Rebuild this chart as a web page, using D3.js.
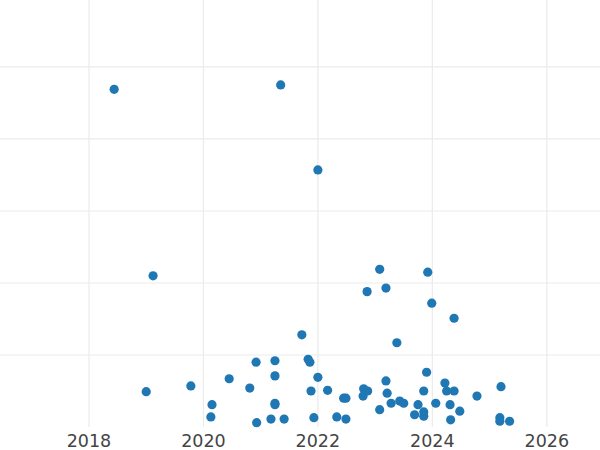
<!DOCTYPE html>
<html>
<head>
<meta charset="utf-8">
<script src="https://cdn.jsdelivr.net/npm/d3@7"></script>
<style>body{margin:0;background:#fff;}</style>
</head>
<body>
<script>
// x = year (decimal), y = value
var years = [2018.44,2021.35,2022.0,2019.12,2019.0,2019.78,2020.15,2020.13,2020.45,2020.81,2020.92,2020.93,2021.25,2021.25,2021.25,2021.25,2021.18,2021.41,2021.72,2021.83,2021.86,2021.88,2022.0,2021.93,2022.17,2022.33,2022.45,2022.49,2022.49,2022.80,2022.79,2022.87,2022.86,2023.08,2023.19,2023.08,2023.19,2023.21,2023.28,2023.38,2023.43,2023.50,2023.69,2023.75,2023.85,2023.85,2023.85,2023.92,2023.90,2023.99,2024.06,2024.22,2024.25,2024.31,2024.32,2024.38,2024.38,2024.48,2024.78,2025.20,2025.18,2025.18,2025.35];
var values = [4.69,4.75,3.57,2.10,0.49,0.57,0.31,0.14,0.67,0.54,0.90,0.06,0.92,0.71,0.33,0.31,0.11,0.11,1.28,0.94,0.90,0.50,0.69,0.13,0.51,0.14,0.40,0.40,0.11,0.53,0.43,0.50,1.88,2.19,1.93,0.24,0.64,0.47,0.33,1.17,0.36,0.33,0.17,0.31,0.21,0.15,0.50,2.15,0.76,1.72,0.33,0.61,0.50,0.31,0.10,1.51,0.50,0.22,0.43,0.56,0.13,0.08,0.08];
var xTicks = [2018,2020,2022,2024,2026];
var yGrid = [1,2,3,4,5];

var width = 600, height = 450, plotBottom = 427;
var svg = d3.select('body').append('svg').attr('width',width).attr('height',height);

var x = d3.scaleLinear().domain([2016.445,2026.93]).range([0,width]);
var y = d3.scaleLinear().domain([0,5.93]).range([plotBottom,0]);

svg.append('g').selectAll('line').data(xTicks).enter().append('line')
    .attr('x1',function(d){return x(d);}).attr('x2',function(d){return x(d);})
    .attr('y1',0).attr('y2',plotBottom)
    .attr('stroke','#ebebeb').attr('stroke-width',1.2);

svg.append('g').selectAll('line').data(yGrid).enter().append('line')
    .attr('x1',0).attr('x2',width)
    .attr('y1',function(d){return y(d);}).attr('y2',function(d){return y(d);})
    .attr('stroke','#ebebeb').attr('stroke-width',1.2);

svg.append('g').selectAll('text').data(xTicks).enter().append('text')
    .text(function(d){return d;})
    .attr('x',function(d){return x(d);})
    .attr('y',447)
    .attr('text-anchor','middle')
    .attr('font-family','DejaVu Sans, sans-serif')
    .attr('font-size','17.5px')
    .attr('fill','#444');

svg.append('g').selectAll('circle').data(years).enter().append('circle')
    .attr('cx',function(d){return x(d);})
    .attr('cy',function(d,i){return y(values[i]);})
    .attr('r',4.6)
    .attr('fill','#1f77b4');
</script>
</body>
</html>
